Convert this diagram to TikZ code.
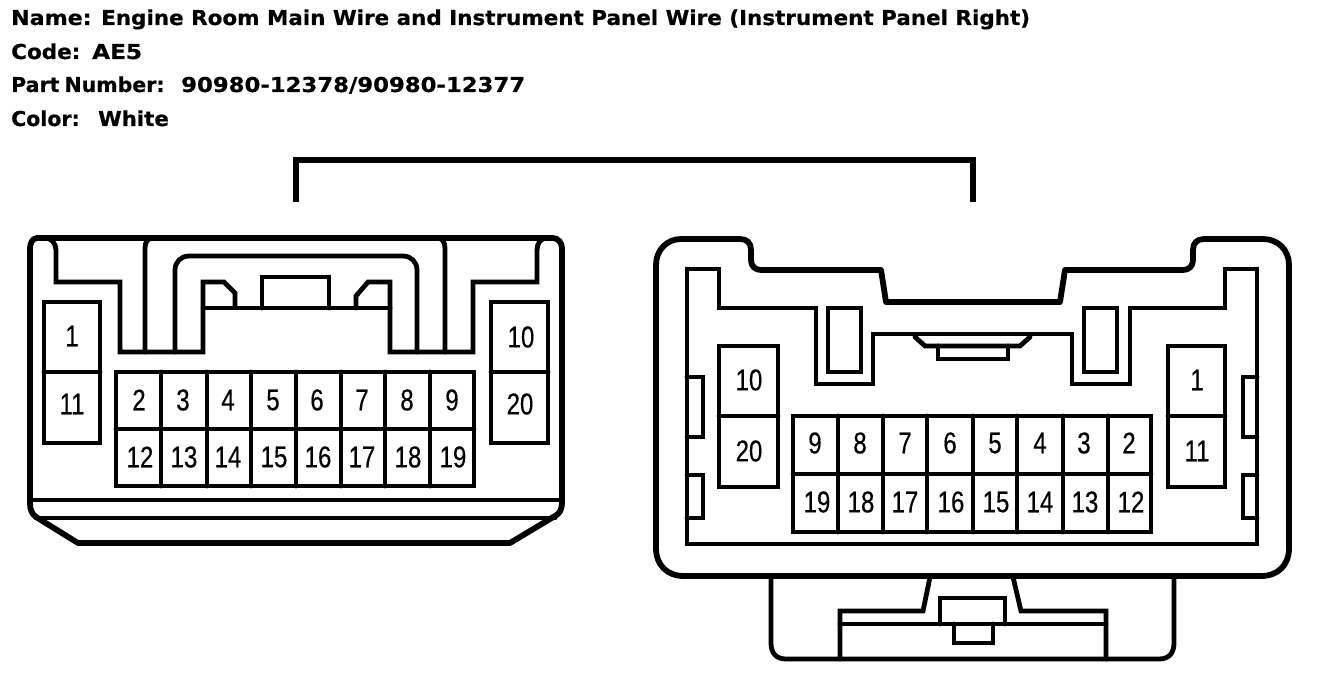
\documentclass[tikz,border=0pt]{standalone}
\usepackage{fontspec}
\setmainfont{Liberation Sans}
\newfontfamily\headfont[FakeBold=0.6]{DejaVu Sans}
\newfontfamily\pinfont[FakeBold=0.5]{Liberation Sans}
\tikzset{
  wire/.style={line width=4.8pt,line join=miter,line cap=round,black},
  thick wire/.style={line width=5.8pt,line join=round,line cap=round,black},
  pinno/.style={inner sep=0pt,font=\pinfont\fontsize{30}{30}\selectfont,text=black},
  headline/.style={anchor=base west,inner sep=0pt,font=\headfont\bfseries\fontsize{20.5}{24}\selectfont,text=black},
}
\newcommand{\pinlabel}[4]{\node[pinno] (#1) at (#2,#3) {\scalebox{.8}[1]{#4}};}
\newcommand{\hx}[2]{\scalebox{#1}[1]{#2}}
\begin{document}
\begin{tikzpicture}[x=1pt,y=-1pt]
\useasboundingbox (0,0) rectangle (1328,682);
% headings
\node[headline] (h1) at (11,25) {\makebox[90pt][l]{\hx{1.08}{Name:}}\hx{1.047}{Engine Room Main Wire and Instrument Panel Wire (Instrument Panel Right)}};
\node[headline] (h2) at (11,59) {\makebox[81pt][l]{\hx{1.05}{Code:}}\hx{1.13}{AE5}};
\node[headline] (h3) at (11,92) {\makebox[170pt][l]{\hx{1.0}{Part\hspace{-2pt} Number:}}\hx{1.11}{90980-12378/90980-12377}};
\node[headline] (h4) at (11,126) {\makebox[87pt][l]{\hx{1.0}{Color:}}\hx{1.04}{White}};
% bracket
\draw[thick wire,line cap=butt,line join=miter] (296,202) -- (296,160) -- (973,160) -- (973,202);

%%% LEFT CONNECTOR
\draw[thick wire] (37,238) -- (553,238) .. controls (558,238) and (562,243) .. (562,248) -- (562,503)
  .. controls (562,510) and (559,514) .. (555,516) -- (510,543) -- (78,543) -- (36,517)
  .. controls (32,514) and (30,510) .. (30,503) -- (30,248) .. controls (30,243) and (33,238) .. (37,238) -- cycle;
\draw[wire] (30,500) -- (562,500);
\draw[wire] (36,518) -- (555,518);
% inner profile
\draw[wire] (45,238) .. controls (51,238) and (56,243) .. (56,250) -- (56,282) -- (120,282) -- (120,352) -- (203,352)
  -- (203,282) -- (224,282) -- (235,293) -- (235,307);
\draw[wire] (203,308) -- (390,308);
\draw[wire] (262,308) -- (262,277) -- (329,277) -- (329,308);
\draw[wire] (356,308) -- (356,296) -- (368,282) -- (390,282) -- (390,352) -- (473,352) -- (473,282) -- (537,282)
  -- (537,250) .. controls (537,243) and (541,238) .. (547,238);
\draw[wire] (145,352) -- (145,248) .. controls (145,242) and (148,238) .. (153,238);
\draw[wire] (445,352) -- (445,248) .. controls (445,242) and (442,238) .. (437,238);
\draw[wire] (175,352) -- (175,270) .. controls (175,262) and (181,256) .. (189,256) -- (403,256)
  .. controls (411,256) and (417,262) .. (417,270) -- (417,352);
% side cavities
\draw[wire] (44,302) rectangle (100,443); \draw[wire] (44,372) -- (100,372);
\draw[wire] (491,302) rectangle (548,443); \draw[wire] (491,372) -- (548,372);
% grid
\draw[wire] (116,372) rectangle (474,486); \draw[wire] (116,429) -- (474,429);
\foreach \vx in {161,207,251,296,341,385,430} {\draw[wire] (\vx,372) -- (\vx,486);}
\pinlabel{la1}{72}{336}{1}
\pinlabel{la11}{72}{404}{11}
\pinlabel{la10}{521}{337}{10}
\pinlabel{la20}{520}{404}{20}
\pinlabel{lb2}{139}{400}{2}
\pinlabel{lb3}{183}{400}{3}
\pinlabel{lb4}{228}{400}{4}
\pinlabel{lb5}{273}{400}{5}
\pinlabel{lb6}{317}{400}{6}
\pinlabel{lb7}{362}{400}{7}
\pinlabel{lb8}{407}{400}{8}
\pinlabel{lb9}{452}{400}{9}
\pinlabel{lb12}{140}{457}{12}
\pinlabel{lb13}{184}{457}{13}
\pinlabel{lb14}{228}{457}{14}
\pinlabel{lb15}{274}{457}{15}
\pinlabel{lb16}{318}{457}{16}
\pinlabel{lb17}{362}{457}{17}
\pinlabel{lb18}{408}{457}{18}
\pinlabel{lb19}{453}{457}{19}

%%% RIGHT CONNECTOR
\draw[thick wire] (681,239) -- (740,239) .. controls (747,239) and (751,243) .. (751,250) -- (751,260)
  .. controls (751,266) and (755,270) .. (761,270) -- (881,270) -- (886,302) -- (1060,302) -- (1065,270) -- (1183,270)
  .. controls (1189,270) and (1193,266) .. (1193,260) -- (1193,250) .. controls (1193,243) and (1197,239) .. (1204,239)
  -- (1263,239) .. controls (1278,239) and (1289,250) .. (1289,265) -- (1289,548)
  .. controls (1289,565) and (1278,576) .. (1261,576) -- (684,576) .. controls (667,576) and (656,565) .. (656,548)
  -- (656,265) .. controls (656,250) and (667,239) .. (681,239) -- cycle;
\draw[wire] (687,269) -- (719,269) -- (719,308) -- (816,308) -- (816,384) -- (873,384) -- (873,334) -- (1072,334)
  -- (1072,384) -- (1130,384) -- (1130,308) -- (1225,308) -- (1225,269) -- (1257,269) -- (1257,544) -- (687,544) -- cycle;
% slots
\draw[wire] (828,308) rectangle (861,372);
\draw[wire] (1084,308) rectangle (1117,372);
% centre latch
\draw[wire] (915,337) -- (925,346) -- (1020,346) -- (1030,337);
\draw[wire] (938,346) -- (938,359) -- (1008,359) -- (1008,346);
% side tabs
\draw[wire] (687,377) -- (703,377) -- (703,437) -- (687,437);
\draw[wire] (687,475) -- (703,475) -- (703,518) -- (687,518);
\draw[wire] (1257,377) -- (1243,377) -- (1243,437) -- (1257,437);
\draw[wire] (1257,475) -- (1243,475) -- (1243,518) -- (1257,518);
% side cavities
\draw[wire] (719,346) rectangle (778,487); \draw[wire] (719,416) -- (778,416);
\draw[wire] (1168,346) rectangle (1225,487); \draw[wire] (1168,416) -- (1225,416);
% grid
\draw[wire] (793,416) rectangle (1151,532); \draw[wire] (793,474) -- (1151,474);
\foreach \vx in {838,883,927,973,1017,1063,1108} {\draw[wire] (\vx,416) -- (\vx,532);}
% lower shell
\draw[wire] (771,576) -- (771,643) .. controls (771,653) and (776,659) .. (786,659) -- (1159,659)
  .. controls (1169,659) and (1174,653) .. (1174,643) -- (1174,576);
\draw[wire] (840,659) -- (840,611) -- (923,611) -- (930,577);
\draw[wire] (1013,577) -- (1021,611) -- (1106,611) -- (1106,659);
\draw[wire] (840,624) -- (1106,624);
\draw[wire] (940,624) -- (940,598) -- (1005,598) -- (1005,624);
\draw[wire] (954,624) -- (954,643) -- (993,643) -- (993,624);
\pinlabel{ra10}{749}{380}{10}
\pinlabel{ra20}{749}{451}{20}
\pinlabel{ra1}{1197}{380}{1}
\pinlabel{ra11}{1197}{451}{11}
\pinlabel{rb9}{815}{443}{9}
\pinlabel{rb8}{860}{443}{8}
\pinlabel{rb7}{905}{443}{7}
\pinlabel{rb6}{950}{443}{6}
\pinlabel{rb5}{995}{443}{5}
\pinlabel{rb4}{1040}{443}{4}
\pinlabel{rb3}{1084}{443}{3}
\pinlabel{rb2}{1129}{443}{2}
\pinlabel{rb19}{817}{502}{19}
\pinlabel{rb18}{861}{502}{18}
\pinlabel{rb17}{905}{502}{17}
\pinlabel{rb16}{951}{502}{16}
\pinlabel{rb15}{996}{502}{15}
\pinlabel{rb14}{1040}{502}{14}
\pinlabel{rb13}{1085}{502}{13}
\pinlabel{rb12}{1131}{502}{12}
\end{tikzpicture}
\end{document}
